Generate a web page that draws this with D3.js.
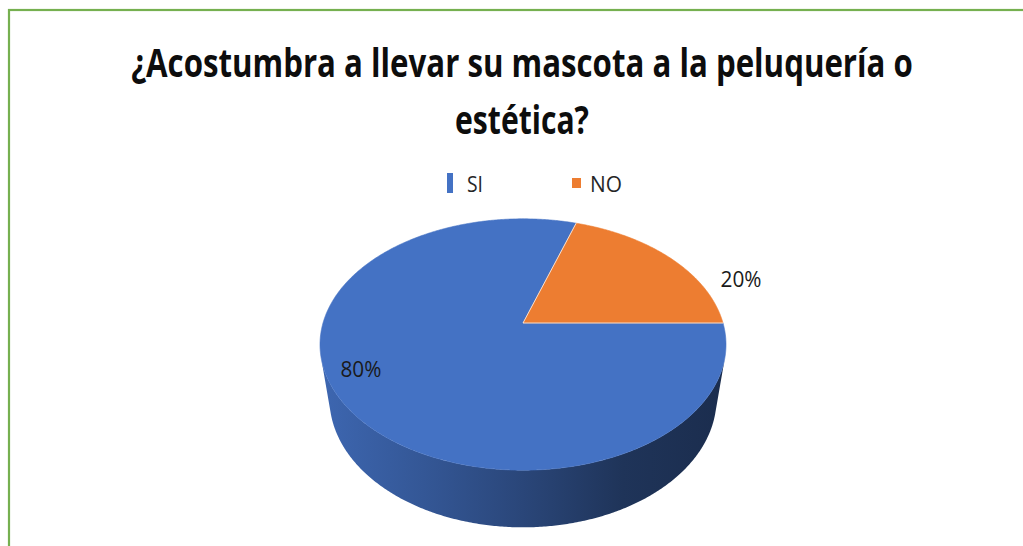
<!DOCTYPE html>
<html>
<head>
<meta charset="utf-8">
<script src="https://cdn.jsdelivr.net/npm/d3@7"></script>
<style>
  html, body { margin: 0; padding: 0; background: #ffffff; }
  svg { display: block; }
</style>
</head>
<body>
<svg id="chart" width="1023" height="546"></svg>
<script>
// Survey answers
const categories = ["SI", "NO"];
const values = [80, 20];
const valueLabels = ["80%", "20%"];
const sliceColors = ["#4472C4", "#ED7D31"];
const titleLines = ["¿Acostumbra a llevar su mascota a la peluquería o", "estética?"];

const W = 1023, H = 546;
const svg = d3.select("#chart");

// Draws a text at (x, y) and squeezes it horizontally to the given width
function fittedText(parent, str, x, y, width, anchor, attrs) {
  const g = parent.append("g");
  const t = g.append("text")
    .attr("x", 0).attr("y", 0)
    .attr("text-anchor", anchor);
  Object.entries(attrs).forEach(([k, v]) => t.attr(k, v));
  t.text(str);
  const natural = t.node().getComputedTextLength();
  const sx = natural > 0 ? width / natural : 1;
  g.attr("transform", `translate(${x},${y}) scale(${sx},1)`);
  return t;
}

// Frame (only the top and left edges fall inside the view)
svg.append("rect")
  .attr("x", 9).attr("y", 10)
  .attr("width", W + 50).attr("height", H + 50)
  .attr("fill", "#ffffff")
  .attr("stroke", "#76b050").attr("stroke-width", 2.2);

// Title
const baseFont = "'Open Sans', 'Noto Sans', sans-serif";
const titleSpec = [
  { text: titleLines[0], y: 77, width: 782 },
  { text: titleLines[1], y: 134, width: 134 }
];
titleSpec.forEach(t => {
  fittedText(svg, t.text, 522, t.y, t.width, "middle", {
    "font-family": baseFont, "font-weight": 700, "font-size": 39, "fill": "#0d0d0d"
  });
});

// Legend
const legendMarkers = [
  { x: 447, y: 173, w: 6, h: 20, textX: 467, textW: 16 },
  { x: 572, y: 178, w: 9, h: 10, textX: 590, textW: 32 }
];
const legend = svg.append("g");
categories.forEach((c, i) => {
  const m = legendMarkers[i];
  legend.append("rect")
    .attr("x", m.x).attr("y", m.y).attr("width", m.w).attr("height", m.h)
    .attr("fill", sliceColors[i]);
  fittedText(legend, c, m.textX, 192, m.textW, "start", {
    "font-family": baseFont, "font-size": 21, "fill": "#262626"
  });
});

// 3D pie: a flat cylinder seen from above with perspective
const cx = 523, cy = 323;
const R = 200;          // radius of the disc
const depth = 72;       // thickness of the disc
const elev = Math.asin(0.61);   // viewing elevation
const sinE = Math.sin(elev), cosE = Math.cos(elev);
const focal = 926;      // distance from camera to pie centre

// theta: 0 = right, +90deg = front (towards the viewer)
function project(theta, r, y) {
  const X = r * Math.cos(theta);
  const Z = r * Math.sin(theta);
  const v = Z * sinE - y * cosE;
  const w = Z * cosE + y * sinE;
  const s = focal / (focal - w);
  return [cx + X * s, cy + v * s];
}

// d3.pie angles run clockwise from the back of the disc
const pie = d3.pie().sort(null).value(d => d)
  .startAngle(Math.PI / 2).endAngle(Math.PI / 2 + 2 * Math.PI);
const arcs = pie(values);
const toTheta = a => a - Math.PI / 2;

function sampleAngles(t0, t1) {
  const n = Math.max(2, Math.ceil(Math.abs(t1 - t0) / (Math.PI / 360)));
  return d3.range(n + 1).map(i => t0 + (t1 - t0) * i / n);
}

const line = d3.line();

// Side wall: only the part facing the camera is visible
const camZ = focal * cosE;
const visA = Math.asin(R / camZ);
const visB = Math.PI - visA;

const defs = svg.append("defs");
const pieG = svg.append("g");

arcs.forEach((d, i) => {
  const t0 = toTheta(d.startAngle), t1 = toTheta(d.endAngle);
  const base = d3.color(sliceColors[i]);
  const gid = "side" + i;
  const grad = defs.append("linearGradient")
    .attr("id", gid)
    .attr("gradientUnits", "userSpaceOnUse")
    .attr("x1", cx - R).attr("y1", 0).attr("x2", cx + R).attr("y2", 0);
  [[0, 0.3], [0.25, 0.75], [0.5, 1.35], [0.75, 2.2], [1, 2.6]].forEach(([o, k]) => {
    grad.append("stop").attr("offset", o).attr("stop-color", base.darker(k).formatHex());
  });
  [-2 * Math.PI, 0, 2 * Math.PI].forEach(shift => {
    const a = Math.max(t0 + shift, visA), b = Math.min(t1 + shift, visB);
    if (b <= a) return;
    const angs = sampleAngles(a, b);
    const topEdge = angs.map(t => project(t, R, 0));
    const botEdge = angs.slice().reverse().map(t => project(t, R, -depth));
    pieG.append("path")
      .attr("d", line(topEdge.concat(botEdge)) + "Z")
      .attr("fill", `url(#${gid})`);
  });
});

// Top face
arcs.forEach((d, i) => {
  const t0 = toTheta(d.startAngle), t1 = toTheta(d.endAngle);
  const pts = [[cx, cy]].concat(sampleAngles(t0, t1).map(t => project(t, R, 0)));
  pieG.append("path")
    .attr("d", line(pts) + "Z")
    .attr("fill", sliceColors[i])
    .attr("stroke", sliceColors[i]).attr("stroke-width", 0.6);
});

// Thin light edges between slices
arcs.forEach(d => {
  const p = project(toTheta(d.startAngle), R, 0);
  pieG.append("line")
    .attr("x1", cx).attr("y1", cy).attr("x2", p[0]).attr("y2", p[1])
    .attr("stroke", "#ffffff").attr("stroke-opacity", 0.75).attr("stroke-width", 1);
});

// Data labels: placed along each slice (fraction of its sweep) at a radius factor
const labelPlacement = [
  { along: 0.538, radius: 0.84 },
  { along: 0.75, radius: 1.22 }
];
arcs.forEach((d, i) => {
  const pl = labelPlacement[i];
  const t = toTheta(d.startAngle + (d.endAngle - d.startAngle) * pl.along);
  const p = project(t, R * pl.radius, 0);
  fittedText(svg, valueLabels[i], p[0], p[1] + 7.5, 41, "middle", {
    "font-family": baseFont, "font-size": 21, "fill": "#1a1a1a"
  });
});
</script>
</body>
</html>
